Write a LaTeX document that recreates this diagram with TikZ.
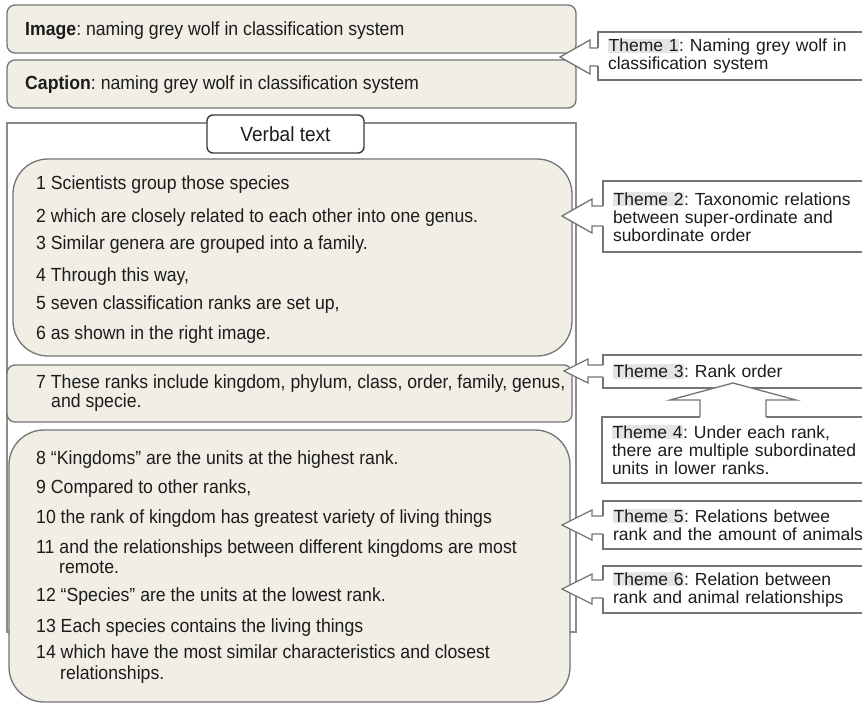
\documentclass[tikz,border=0pt]{standalone}
\usepackage{fontspec}
\setmainfont{Liberation Sans}
\newfontfamily\bodyfont[FakeStretch=0.93]{Liberation Sans}
\usetikzlibrary{calc}
\frenchspacing

\definecolor{panel}{HTML}{F1EEE5}
\definecolor{edge}{HTML}{747474}
\definecolor{frameline}{HTML}{8C8C8C}
\definecolor{labeledge}{HTML}{3A3A3A}
\definecolor{ink}{HTML}{1C1C1C}
\definecolor{taggrey}{HTML}{E4E4E4}

% grey highlight behind the "Theme n" tag
\newcommand\themetag[1]{{\setlength{\fboxsep}{0.6pt}\colorbox{taggrey}{Theme #1}}}

% left-pointing block arrow: #1 tip, #2 theme box, #3 head length,
% #4 head half width, #5 shaft half width
\newcommand\leftblock[5]{%
  \fill[white] (#1) -- ($(#1)+(#3,-#4)$) -- ($(#1)+(#3,-#5)$)
    -- ($(#2.west |- #1)+(1,-#5)$) -- ($(#2.west |- #1)+(1,#5)$)
    -- ($(#1)+(#3,#5)$) -- ($(#1)+(#3,#4)$) -- cycle;
  \draw[arrline] ($(#2.west |- #1)+(0,-#5)$) -- ($(#1)+(#3,-#5)$)
    -- ($(#1)+(#3,-#4)$) -- (#1) -- ($(#1)+(#3,#4)$)
    -- ($(#1)+(#3,#5)$) -- ($(#2.west |- #1)+(0,#5)$);
}

\tikzset{
  panelbox/.style={draw=edge, line width=1.3pt, fill=panel, outer sep=0pt,
    inner sep=0pt, anchor=north west},
  sent/.style={anchor=west, inner sep=0pt, text=ink,
    font=\bodyfont\fontsize{19}{20}\selectfont, text height=13.6pt, text depth=0pt},
  labelbox/.style={draw=labeledge, line width=1.4pt, fill=white, rounded corners=6pt,
    minimum width=157pt, minimum height=38pt, inner sep=0pt, outer sep=0pt,
    text=ink, font=\bodyfont\fontsize{20.5}{22}\selectfont},
  themebox/.style={draw=edge, line width=1.5pt, fill=white, anchor=north west,
    outer sep=0pt, inner xsep=10pt, inner ysep=0pt, align=left, text width=250pt,
    text=ink, font=\fontsize{17.5}{18}\selectfont},
  arrline/.style={draw=edge, line width=1.3pt, line join=miter},
}

\begin{document}
\begin{tikzpicture}[x=1pt, y=-1pt]
\useasboundingbox (0,0) rectangle (862,703);

% image and caption panels
\node[panelbox, rounded corners=8pt, minimum width=569pt, minimum height=48pt] (img) at (7,5) {};
\node[panelbox, rounded corners=8pt, minimum width=569pt, minimum height=48pt] (cap) at (7,60) {};
\node[sent] (imgtxt) at (25,29) {\textbf{Image}: naming grey wolf in classification system};
\node[sent] (captxt) at (25,83) {\textbf{Caption}: naming grey wolf in classification system};

% verbal text frame
\node[draw=frameline, line width=1.1pt, anchor=north west, minimum width=569pt,
  minimum height=509pt, inner sep=0pt, outer sep=0pt] (frame) at (7,123) {};
\node[labelbox] (vt) at (285.5,134) {Verbal text};

% sentence groups
\node[panelbox, rounded corners=35pt, minimum width=559pt, minimum height=197pt] (grpA) at (13,159) {};
\node[panelbox, rounded corners=8pt, minimum width=565pt, minimum height=57pt] (grpB) at (7,365) {};
\node[panelbox, rounded corners=35pt, minimum width=561pt, minimum height=272pt] (grpC) at (9,430) {};

\node[sent] (l1) at (36,183) {1 Scientists group those species};
\node[sent] (l2) at (36,216) {2 which are closely related to each other into one genus.};
\node[sent] (l3) at (36,243) {3 Similar genera are grouped into a family.};
\node[sent] (l4) at (36,275) {4 Through this way,};
\node[sent] (l5) at (36,303) {5 seven classification ranks are set up,};
\node[sent] (l6) at (36,333) {6 as shown in the right image.};

\node[sent] (l7) at (36,382) {7 These ranks include kingdom, phylum, class, order, family, genus,};
\node[sent] (l7b) at (51,401) {and specie.};

\node[sent] (l8) at (36,458) {8 “Kingdoms” are the units at the highest rank.};
\node[sent] (l9) at (36,487) {9 Compared to other ranks,};
\node[sent] (l10) at (36,517) {10 the rank of kingdom has greatest variety of living things};
\node[sent] (l11) at (36,547) {11 and the relationships between different kingdoms are most};
\node[sent] (l11b) at (59,567) {remote.};
\node[sent] (l12) at (36,595) {12 “Species” are the units at the lowest rank.};
\node[sent] (l13) at (36,626) {13 Each species contains the living things};
\node[sent] (l14) at (36,652) {14 which have the most similar characteristics and closest};
\node[sent] (l14b) at (60,673) {relationships.};

% theme boxes
\node[themebox, minimum height=48pt] (th1) at (598,32)
  {\themetag{1}: Naming grey wolf in\\classification system};
\node[themebox, minimum height=71pt] (th2) at (603,181)
  {\themetag{2}: Taxonomic relations\\between super-ordinate and\\subordinate order};
\node[themebox, minimum height=33pt] (th3) at (603,355)
  {\themetag{3}: Rank order};
\node[themebox, minimum height=66pt] (th4) at (602,417)
  {\themetag{4}: Under each rank,\\there are multiple subordinated\\units in lower ranks.};
\node[themebox, minimum height=48pt] (th5) at (603,501)
  {\themetag{5}: Relations betwee\\rank and the amount of animals};
\node[themebox, minimum height=47pt] (th6) at (603,566)
  {\themetag{6}: Relation between\\rank and animal relationships};

% block arrows from the themes to the text they describe
\coordinate (tip1) at (560,57);
\coordinate (tip2) at (562,216);
\coordinate (tip3) at (564,371);
\coordinate (tip5) at (562,525);
\coordinate (tip6) at (562,589);
\leftblock{tip1}{th1}{30}{17}{9}
\leftblock{tip2}{th2}{30}{17}{10}
\leftblock{tip3}{th3}{24}{12}{6}
\leftblock{tip5}{th5}{30}{15}{9}
\leftblock{tip6}{th6}{30}{15}{9}

% upward arrow from theme 4 to theme 3
\coordinate (tip4) at (733,383);
\fill[white] (tip4) -- ($(tip4)+(-63,17)$) -- ($(tip4)+(-33,17)$)
  -- ($(th4.north -| tip4)+(-33,1)$) -- ($(th4.north -| tip4)+(33,1)$)
  -- ($(tip4)+(33,17)$) -- ($(tip4)+(63,17)$) -- cycle;
\draw[arrline] ($(th4.north -| tip4)+(-33,0)$) -- ($(tip4)+(-33,17)$)
  -- ($(tip4)+(-63,17)$) -- (tip4) -- ($(tip4)+(63,17)$)
  -- ($(tip4)+(33,17)$) -- ($(th4.north -| tip4)+(33,0)$);
\end{tikzpicture}
\end{document}
